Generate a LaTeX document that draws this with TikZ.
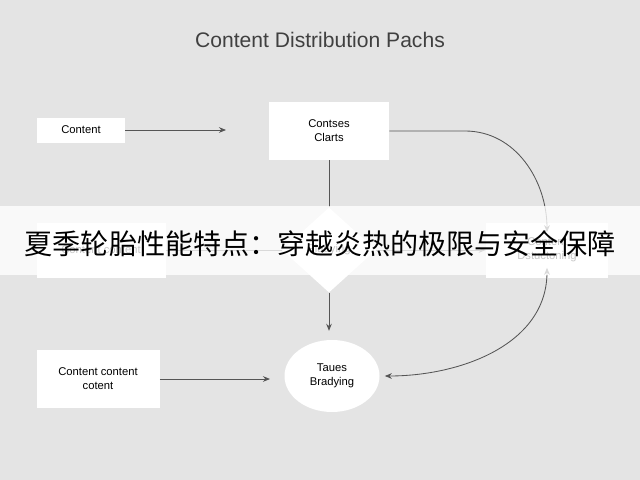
\documentclass[tikz,border=0pt]{standalone}
\usepackage{fontspec}
\setmainfont{Liberation Sans}
\newfontfamily\cjk{Noto Sans CJK SC}
\usetikzlibrary{shapes.geometric, positioning, arrows.meta}
\definecolor{bggray}{HTML}{E4E4E4}
\definecolor{linegray}{HTML}{555555}
\tikzset{
	box/.style={draw=none, fill=white, align=center, font=\fontsize{8}{10}\selectfont, inner sep=0pt},
	link/.style={draw=linegray, line width=0.6pt, -{Stealth[length=5pt,width=4pt]}}
}
\begin{document}
\begin{tikzpicture}[x=0.025cm, y=-0.025cm]
	\fill[bggray] (0,0) rectangle (640,480);
	\useasboundingbox (0,0) rectangle (640,480);
	\node[font=\fontsize{15}{18}\selectfont, text=black!75] (title) at (320,40) {Content Distribution Pachs};
	% upper row
	\node[box, minimum width=88*0.025cm, minimum height=25*0.025cm] (src) at (81,130) {Content};
	\node[box, minimum width=120*0.025cm, minimum height=58*0.025cm] (clarts) at (329,131) {Contses\\Clarts};
	% middle row
	\node[box, minimum width=129*0.025cm, minimum height=55*0.025cm] (mid) at (101,250) {Content content};
	\node[box, diamond, minimum width=94*0.025cm, minimum height=85*0.025cm] (play) at (329,250) {Pladying};
	\node[box, minimum width=122*0.025cm, minimum height=55*0.025cm] (dist) at (547,250) {Content\\Dstuctoning};
	% lower row
	\node[box, minimum width=123*0.025cm, minimum height=58*0.025cm] (cc) at (98,379) {Content content\\cotent};
	\node[box, ellipse, minimum width=95*0.025cm, minimum height=72*0.025cm] (taues) at (332,376) {Taues\\Bradying};
	% connectors
	\draw[link] (src) -- ++(145,0) coordinate (e1);
	\draw[link] (clarts.east) -- (465,131) to[out=0, in=90] ([yshift=-10*0.025cm]dist.north);
	\draw[link, -] (clarts) -- (play);
	\draw[link, -] (mid) -- (play);
	\draw[link] (play) -- (dist);
	\draw[link] (play.south) -- ++(0,38) coordinate (e2);
	\draw[link] (cc) -- ++(172,0) coordinate (e3);
	\draw[link, {Stealth[length=5pt,width=4pt]}-{Stealth[length=5pt,width=4pt]}] ([xshift=5*0.025cm]taues.east) to[out=0, in=270] ([yshift=10*0.025cm]dist.south);
	% banner
	\fill[white, fill opacity=0.78] (0,206) rectangle (640,275);
	\node[font=\cjk\fontsize{20}{24}\selectfont] (banner) at (320,244) {夏季轮胎性能特点：穿越炎热的极限与安全保障};
\end{tikzpicture}
\end{document}
